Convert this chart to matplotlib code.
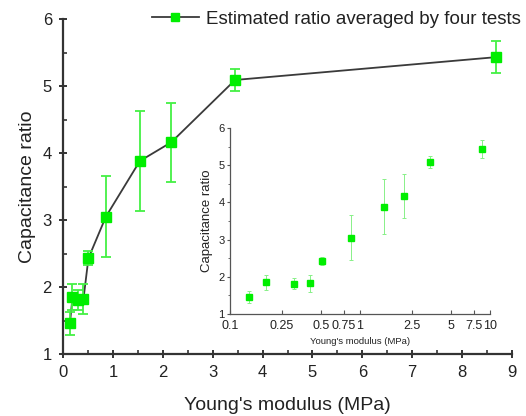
import matplotlib
matplotlib.use("Agg")
import matplotlib.pyplot as plt
from matplotlib.ticker import MultipleLocator, FixedLocator, NullLocator
from matplotlib.lines import Line2D

plt.rcParams['font.family'] = ['Liberation Sans', 'DejaVu Sans']

# Data
modulus = [0.14, 0.19, 0.31, 0.41, 0.51, 0.86, 1.54, 2.17, 3.45, 8.67]
ratio = [1.46, 1.85, 1.81, 1.82, 2.43, 3.05, 3.88, 4.16, 5.09, 5.43]
err = [0.17, 0.20, 0.15, 0.23, 0.10, 0.60, 0.74, 0.59, 0.17, 0.24]
inset_xticks = [0.1, 0.25, 0.5, 0.75, 1, 2.5, 5, 7.5, 10]
inset_xticklabels = ['0.1', '0.25', '0.5', '0.75', '1', '2.5', '5', '7.5', '10']

W, H = 526, 416
fig = plt.figure(figsize=(W / 100, H / 100), dpi=100)

def fbox(l, t, r, b):
    return [l / W, 1 - b / H, (r - l) / W, (b - t) / H]

txt = '#222222'
green = '#00ee00'
egreen = '#44f044'

ax = fig.add_axes(fbox(63, 19, 512, 354))
ax.plot(modulus, ratio, '-', color='#3a3a3a', lw=1.3, zorder=2)
ax.errorbar(modulus, ratio, yerr=err, fmt='none', ecolor=egreen, elinewidth=1.3,
            capsize=3.5, capthick=1.3, zorder=3)
ax.plot(modulus, ratio, 's', color=green, ms=6.5, mec=green, zorder=4)
ax.set_xlim(0, 9)
ax.set_ylim(1, 6)
ax.xaxis.set_major_locator(MultipleLocator(1))
ax.xaxis.set_minor_locator(MultipleLocator(0.5))
ax.yaxis.set_major_locator(MultipleLocator(1))
ax.yaxis.set_minor_locator(MultipleLocator(0.5))
for s in ['top', 'right']:
    ax.spines[s].set_visible(False)
for s in ['left', 'bottom']:
    ax.spines[s].set_color('#333333')
    ax.spines[s].set_linewidth(1.6)
ax.tick_params(which='major', direction='inout', length=6, width=1.4, color='#333333',
               labelsize=12, labelcolor=txt, pad=5)
ax.tick_params(which='minor', direction='in', length=3, width=1.2, color='#333333')
ax.set_xlabel("Young's modulus (MPa)", fontsize=14, color=txt, labelpad=12)
ax.set_ylabel("Capacitance ratio", fontsize=14, color=txt, labelpad=5)

# legend
h = Line2D([], [], color='#3a3a3a', lw=1.3, marker='s', ms=6, mfc=green, mec=green)
fig.legend([h], ['Estimated ratio averaged by four tests'], loc='upper right',
           bbox_to_anchor=(538 / W, 1 + 6 / H), frameon=False, fontsize=13.5,
           handlelength=2.5, handletextpad=0.4, labelcolor=txt)

# inset
ins = fig.add_axes(fbox(230, 128, 490, 314))
ins.errorbar(modulus, ratio, yerr=err, fmt='none', ecolor='#88f088', elinewidth=0.7,
             capsize=1.5, capthick=0.7, zorder=2)
ins.plot(modulus, ratio, 's', color=green, ms=3.8, mec=green, zorder=3)
ins.set_xscale('log')
ins.set_xlim(0.1, 10)
ins.set_ylim(1, 6)
ins.xaxis.set_major_locator(FixedLocator(inset_xticks))
ins.xaxis.set_minor_locator(NullLocator())
ins.set_xticklabels(inset_xticklabels)
ins.yaxis.set_major_locator(MultipleLocator(1))
ins.yaxis.set_minor_locator(MultipleLocator(0.5))
for s in ['top', 'right']:
    ins.spines[s].set_visible(False)
for s in ['left', 'bottom']:
    ins.spines[s].set_color('#555555')
    ins.spines[s].set_linewidth(0.9)
ins.tick_params(axis='x', which='major', direction='in', length=3, width=0.8, color='#555555',
                labelsize=9, labelcolor=txt, pad=4)
ins.tick_params(axis='y', which='major', direction='out', length=2.5, width=0.8, color='#555555',
                labelsize=8, labelcolor=txt, pad=1.5)
ins.tick_params(axis='y', which='minor', direction='out', length=1.5, width=0.6, color='#555555')
ins.set_xlabel("Young's modulus (MPa)", fontsize=6.8, color=txt, labelpad=4)
ins.set_ylabel("Capacitance ratio", fontsize=9.5, color=txt, labelpad=4)

fig.savefig('out.png', dpi=100, facecolor='white')
